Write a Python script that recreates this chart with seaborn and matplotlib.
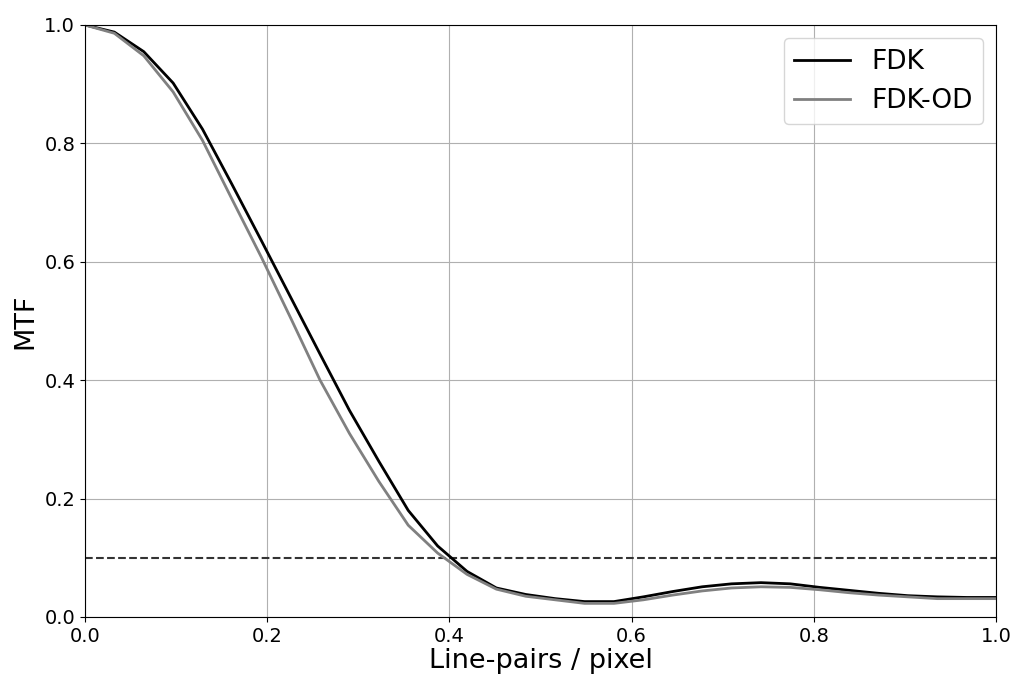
import numpy as np
import pandas as pd
import matplotlib
matplotlib.use("Agg")
import matplotlib.pyplot as plt
import seaborn as sns

freq = np.linspace(0, 1, 32)
fdk = [1.0, 0.988, 0.955, 0.902, 0.824, 0.731, 0.636, 0.540, 0.444, 0.349,
       0.263, 0.180, 0.120, 0.077, 0.049, 0.038, 0.031, 0.026, 0.026, 0.034,
       0.043, 0.051, 0.056, 0.058, 0.056, 0.050, 0.045, 0.040, 0.036, 0.034,
       0.033, 0.033]
fdk_od = [1.0, 0.986, 0.948, 0.887, 0.805, 0.706, 0.608, 0.505, 0.400, 0.310,
          0.229, 0.155, 0.108, 0.072, 0.047, 0.035, 0.029, 0.023, 0.023, 0.029,
          0.037, 0.044, 0.049, 0.051, 0.050, 0.046, 0.041, 0.037, 0.034, 0.031,
          0.031, 0.031]
threshold = 0.1
series_names = ["FDK", "FDK-OD"]
xticks = [0.0, 0.2, 0.4, 0.6, 0.8, 1.0]
yticks = [0.0, 0.2, 0.4, 0.6, 0.8, 1.0]

df = pd.DataFrame({
    "freq": np.concatenate([freq, freq]),
    "mtf": np.concatenate([fdk, fdk_od]),
    "method": [series_names[0]] * len(freq) + [series_names[1]] * len(freq),
})

fig = plt.figure(figsize=(10.15, 6.81), dpi=100)
ax = fig.add_axes([0.0837, 0.094, 0.8976, 0.8693])
sns.lineplot(data=df, x="freq", y="mtf", hue="method",
             palette={"FDK": "black", "FDK-OD": "gray"}, linewidth=2, ax=ax)
ax.axhline(threshold, color="#333333", linestyle="--", linewidth=1.5, zorder=1)
ax.set_xlim(0, 1)
ax.set_ylim(0, 1)
ax.set_xticks(xticks)
ax.set_yticks(yticks)
ax.tick_params(labelsize=14)
ax.grid(True, color="#b0b0b0", linewidth=0.8)
ax.set_axisbelow(True)
ax.set_xlabel("Line-pairs / pixel", fontsize=19.5, labelpad=2)
ax.set_ylabel("MTF", fontsize=19.5)
leg = ax.legend(loc="upper right", fontsize=19, handlelength=2.1)
fig.savefig("out.png", dpi=100)
